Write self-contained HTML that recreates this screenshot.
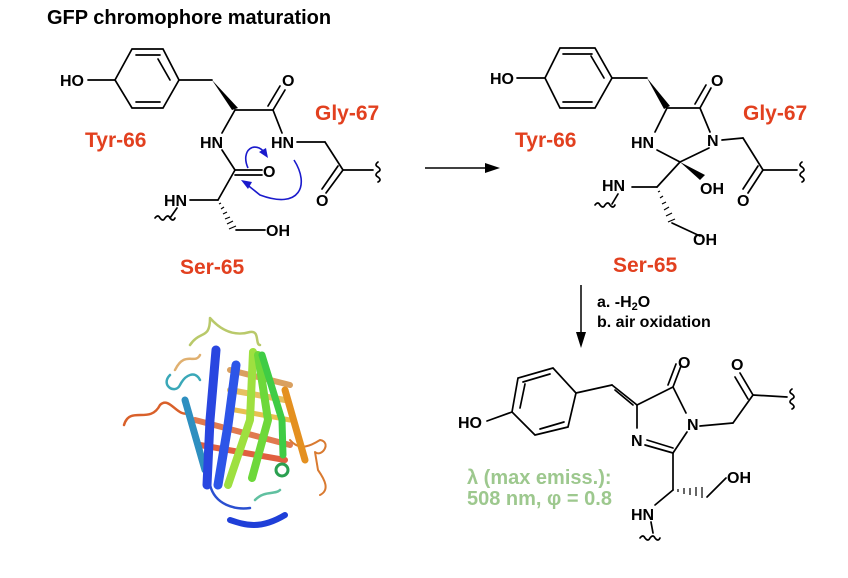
<!DOCTYPE html>
<html><head><meta charset="utf-8"><style>
body{margin:0;background:#fff}
svg{display:block}
text{font-family:"Liberation Sans",Arial,sans-serif;font-weight:bold}
.a{font-size:16px;fill:#000}
.r{font-size:21px;fill:#e2401f}
.b{stroke:#000;stroke-width:1.7;fill:none;stroke-linecap:round}
</style></head><body>
<svg width="848" height="578" viewBox="0 0 848 578">
<text x="47" y="24" style="font-size:20px">GFP chromophore maturation</text>

<!-- LEFT MOLECULE -->
<g class="b">
<line x1="88" y1="80" x2="115" y2="80"/>
<polygon points="115,80 132,49 163,49 179,80 163,108 132,108"/>
<line x1="136" y1="55" x2="160" y2="55"/><line x1="136" y1="102" x2="160" y2="102"/><line x1="170" y1="80" x2="158" y2="59"/>
<line x1="179" y1="80" x2="212" y2="80"/>
<line x1="235" y1="110" x2="273" y2="110"/>
<line x1="273" y1="110" x2="285" y2="90"/><line x1="268" y1="106" x2="280" y2="86"/>
<line x1="273" y1="110" x2="282" y2="133"/>
<line x1="297" y1="142" x2="325" y2="142"/><line x1="325" y1="142" x2="343" y2="170"/>
<line x1="343" y1="170" x2="326" y2="193"/><line x1="338" y1="166" x2="322" y2="189"/>
<line x1="343" y1="170" x2="373" y2="170"/>
<line x1="235" y1="110" x2="222" y2="133"/>
<line x1="222" y1="150" x2="235" y2="170"/>
<line x1="235" y1="170" x2="262" y2="170"/><line x1="235" y1="175" x2="262" y2="175"/>
<line x1="235" y1="170" x2="218" y2="200"/>
<line x1="190" y1="200" x2="218" y2="200"/>
<line x1="177" y1="208" x2="170" y2="218"/>
<line x1="236" y1="230" x2="265" y2="230"/>
</g>
<polygon points="212,80 232,110 238,108" fill="#000"/>
<g stroke="#000" stroke-width="1.2">
<line x1="219" y1="204" x2="221" y2="203"/><line x1="221" y1="209" x2="224" y2="207"/><line x1="223" y1="214" x2="227" y2="212"/><line x1="225" y1="219" x2="230" y2="217"/><line x1="227" y1="224" x2="233" y2="221"/><line x1="229" y1="229" x2="236" y2="226"/>
</g>
<path d="M378,162 q-4,3 0,5 q4,3 0,5 q-4,3 0,5 q4,3 0,5" class="b" stroke-width="1.3"/>
<path d="M155,218 q3,-4 5,0 q3,4 5,0 q3,-4 5,0 q3,4 5,0" class="b" stroke-width="1.3"/>
<text class="a" x="60" y="86">HO</text>
<text class="a" x="282" y="86">O</text>
<text class="a" x="271" y="148">HN</text>
<text class="a" x="316" y="206">O</text>
<text class="a" x="200" y="148">HN</text>
<text class="a" x="263" y="177">O</text>
<text class="a" x="164" y="206">HN</text>
<text class="a" x="266" y="236">OH</text>
<text class="r" x="85" y="147">Tyr-66</text>
<text class="r" x="315" y="120">Gly-67</text>
<text class="r" x="180" y="274">Ser-65</text>
<!-- blue arrows -->
<g fill="none" stroke="#1a1acc" stroke-width="1.6">
<path d="M248,168 C240,150 255,140 265,153"/>
<path d="M294,160 C310,185 300,210 260,195 L245,183"/>
</g>
<polygon points="268,158 259,152 266,148" fill="#1a1acc"/>
<polygon points="241,180 252,182 248,189" fill="#1a1acc"/>

<!-- reaction arrow -->
<line x1="425" y1="168" x2="492" y2="168" stroke="#000" stroke-width="1.5"/>
<polygon points="500,168 485,163 485,173" fill="#000"/>

<!-- RIGHT MOLECULE -->
<g class="b">
<line x1="517" y1="78" x2="545" y2="78"/>
<polygon points="545,78 560,48 595,48 612,78 595,108 560,108"/>
<line x1="563" y1="54" x2="592" y2="54"/><line x1="563" y1="102" x2="592" y2="102"/><line x1="604" y1="78" x2="591" y2="56"/>
<line x1="612" y1="78" x2="647" y2="78"/>
<line x1="667" y1="108" x2="700" y2="108"/>
<line x1="700" y1="108" x2="711" y2="88"/><line x1="695" y1="104" x2="706" y2="85"/>
<line x1="700" y1="108" x2="710" y2="132"/>
<line x1="667" y1="108" x2="655" y2="132"/>
<line x1="657" y1="150" x2="680" y2="162"/>
<line x1="709" y1="148" x2="680" y2="162"/>
<line x1="680" y1="162" x2="657" y2="187"/>
<line x1="632" y1="187" x2="657" y2="187"/>
<line x1="618" y1="194" x2="612" y2="204"/>
<line x1="672" y1="223" x2="700" y2="236"/>
<line x1="722" y1="140" x2="743" y2="138"/><line x1="743" y1="138" x2="763" y2="170"/>
<line x1="763" y1="170" x2="748" y2="193"/><line x1="758" y1="166" x2="743" y2="189"/>
<line x1="763" y1="170" x2="797" y2="170"/>
</g>
<polygon points="647,78 664,109 670,106" fill="#000"/>
<polygon points="680,162 700,180 705,175" fill="#000"/>
<g stroke="#000" stroke-width="1.2">
<line x1="658" y1="192" x2="660" y2="191"/><line x1="660" y1="198" x2="663" y2="196"/><line x1="662" y1="204" x2="666" y2="202"/><line x1="664" y1="210" x2="669" y2="207"/><line x1="666" y1="216" x2="672" y2="213"/><line x1="668" y1="222" x2="675" y2="219"/>
</g>
<path d="M802,162 q-4,3 0,5 q4,3 0,5 q-4,3 0,5 q4,3 0,5" class="b" stroke-width="1.3"/>
<path d="M595,205 q3,-4 5,0 q3,4 5,0 q3,-4 5,0 q3,4 5,0" class="b" stroke-width="1.3"/>
<text class="a" x="490" y="84">HO</text>
<text class="a" x="711" y="86">O</text>
<text class="a" x="631" y="148">HN</text>
<text class="a" x="707" y="146">N</text>
<text class="a" x="700" y="194">OH</text>
<text class="a" x="602" y="191">HN</text>
<text class="a" x="737" y="206">O</text>
<text class="a" x="693" y="245">OH</text>
<text class="r" x="515" y="147">Tyr-66</text>
<text class="r" x="743" y="120">Gly-67</text>
<text class="r" x="613" y="272">Ser-65</text>

<!-- down arrow -->
<line x1="581" y1="285" x2="581" y2="333" stroke="#000" stroke-width="1.5"/>
<polygon points="581,348 576,332 586,332" fill="#000"/>
<text x="597" y="307" style="font-size:16px">a. -H<tspan font-size="11" dy="3">2</tspan><tspan dy="-3">O</tspan></text>
<text x="597" y="327" style="font-size:16px">b. air oxidation</text>

<!-- PRODUCT -->
<g class="b">
<line x1="487" y1="421" x2="512" y2="412"/>
<polygon points="512,412 518,378 553,368 576,393 568,427 535,435"/>
<line x1="523" y1="382" x2="550" y2="374"/><line x1="540" y1="429" x2="564" y2="422"/><line x1="520" y1="408" x2="525" y2="384"/>
<line x1="576" y1="393" x2="612" y2="385"/>
<line x1="612" y1="385" x2="637" y2="405"/><line x1="615" y1="390" x2="633" y2="405"/>
<line x1="637" y1="405" x2="673" y2="387"/>
<line x1="673" y1="387" x2="681" y2="366"/><line x1="668" y1="385" x2="676" y2="364"/>
<line x1="673" y1="387" x2="686" y2="413"/>
<line x1="637" y1="405" x2="637" y2="428"/>
<line x1="645" y1="445" x2="673" y2="453"/><line x1="647" y1="440" x2="673" y2="448"/>
<line x1="673" y1="453" x2="687" y2="432"/>
<line x1="673" y1="453" x2="673" y2="490"/>
<line x1="673" y1="490" x2="655" y2="505"/>
<line x1="707" y1="497" x2="726" y2="478"/>
<line x1="651" y1="522" x2="653" y2="533"/>
<line x1="700" y1="426" x2="733" y2="423"/><line x1="733" y1="423" x2="753" y2="395"/>
<line x1="753" y1="395" x2="740" y2="373"/><line x1="748" y1="399" x2="735" y2="377"/>
<line x1="753" y1="395" x2="787" y2="397"/>
</g>
<g stroke="#000" stroke-width="1.2">
<line x1="678" y1="489" x2="678" y2="492"/><line x1="684" y1="488" x2="684" y2="494"/><line x1="690" y1="488" x2="690" y2="495"/><line x1="696" y1="487" x2="696" y2="496"/><line x1="702" y1="487" x2="702" y2="498"/>
</g>
<path d="M792,389 q-4,3 0,5 q4,3 0,5 q-4,3 0,5 q4,3 0,5" class="b" stroke-width="1.3"/>
<path d="M640,538 q3,-4 5,0 q3,4 5,0 q3,-4 5,0 q3,4 5,0" class="b" stroke-width="1.3"/>
<text class="a" x="458" y="428">HO</text>
<text class="a" x="678" y="368">O</text>
<text class="a" x="731" y="370">O</text>
<text class="a" x="687" y="430">N</text>
<text class="a" x="631" y="446">N</text>
<text class="a" x="727" y="483">OH</text>
<text class="a" x="631" y="520">HN</text>
<text x="467" y="484" style="font-size:20px;fill:#9dc88e">λ (max emiss.):</text>
<text x="467" y="505" style="font-size:20px;fill:#9dc88e">508 nm, φ = 0.8</text>

<!-- PROTEIN -->
<g fill="none" stroke-linecap="round" stroke-linejoin="round">
<path d="M124,425 C130,405 150,425 160,405 C170,395 178,420 190,412" stroke="#d9602a" stroke-width="2.5"/>
<path d="M290,440 C300,452 312,445 320,440 C332,442 322,458 315,452 L318,470 C325,480 330,490 320,495" stroke="#d97a30" stroke-width="2"/>
<path d="M190,345 C200,330 210,340 210,318 C225,335 240,335 250,332 C260,330 255,345 260,345" stroke="#b9c96a" stroke-width="2.5"/>
<path d="M175,370 C185,350 195,365 200,355" stroke="#e0b070" stroke-width="2.5"/>
<path d="M170,375 C160,385 175,395 180,385 C185,375 195,370 200,380" stroke="#3aa8b8" stroke-width="2.5"/>
<path d="M210,485 C215,505 235,510 250,508" stroke="#2a4fd0" stroke-width="2.5"/>
<path d="M255,500 C265,490 275,495 280,490" stroke="#60c0a0" stroke-width="2.5"/>
<path d="M230,520 C245,525 260,530 285,515" stroke="#1f3fd8" stroke-width="6"/>
<path d="M230,370 L290,385" stroke="#d9a060" stroke-width="6"/>
<path d="M230,390 L285,400" stroke="#e6c060" stroke-width="6"/>
<path d="M235,410 L290,420" stroke="#e8c050" stroke-width="5"/>
<path d="M195,420 L290,445" stroke="#e07a50" stroke-width="6"/>
<path d="M200,445 L285,460" stroke="#e06040" stroke-width="6"/>
<path d="M285,390 L305,460" stroke="#e49020" stroke-width="7"/>
<path d="M185,400 L205,470" stroke="#2e8fc0" stroke-width="7"/>
<path d="M216,350 L210,420 L207,485" stroke="#2946e0" stroke-width="9"/>
<path d="M236,365 L228,425 L218,485" stroke="#2d55e8" stroke-width="9"/>
<path d="M253,352 L250,420 L228,485" stroke="#9ee040" stroke-width="8"/>
<path d="M258,355 L268,420 L252,478" stroke="#6dd83a" stroke-width="8"/>
<path d="M262,355 L282,420 L283,455" stroke="#3fcc45" stroke-width="7"/>
<circle cx="282" cy="470" r="6" stroke="#2aa050" stroke-width="3"/>
</g>
</svg>
</body></html>
